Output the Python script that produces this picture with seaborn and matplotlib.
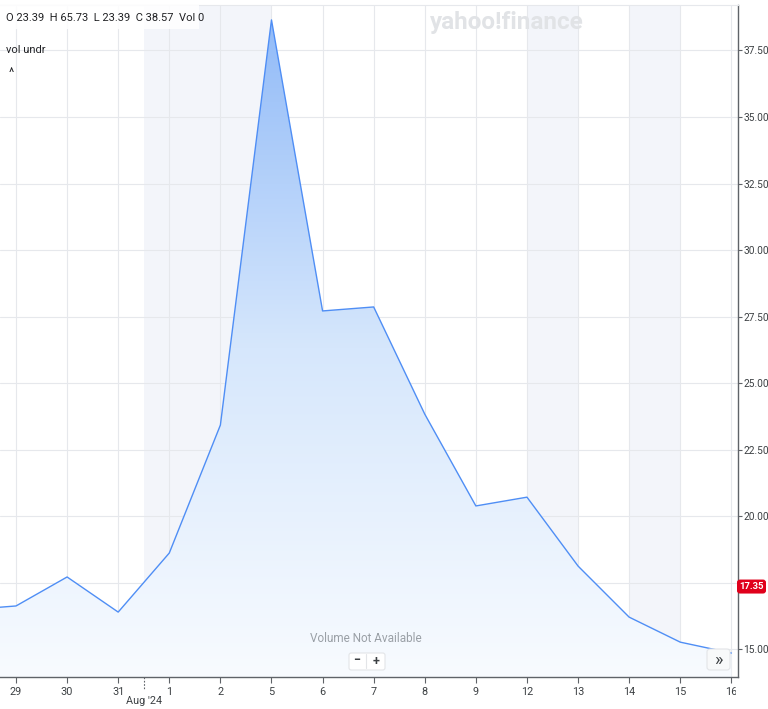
import numpy as np
import pandas as pd
import matplotlib
matplotlib.use("Agg")
import matplotlib.pyplot as plt
import seaborn as sns
from matplotlib.colors import LinearSegmentedColormap
from matplotlib.patches import FancyBboxPatch, Rectangle

# ---- data ----
dates = ["26", "29", "30", "31", "1", "2", "5", "6", "7", "8", "9", "12", "13", "14", "15", "16"]
closes = [16.47, 16.62, 17.71, 16.39, 18.61, 23.42, 38.65, 27.71, 27.86, 23.83,
          20.38, 20.71, 18.12, 16.20, 15.26, 14.85]
tick_labels = ["29", "30", "31", "1", "2", "5", "6", "7", "8", "9", "12", "13", "14", "15", "16"]
y_ticks = [15.0, 17.5, 20.0, 22.5, 25.0, 27.5, 30.0, 32.5, 35.0, 37.5]
bands = [(2.5, 5), (10, 11), (12, 13)]
last_label = 17.35
ohlc_text = "O 23.39  H 65.73  L 23.39  C 38.57  Vol 0"

df = pd.DataFrame({"pos": np.arange(len(dates)) - 1, "close": closes})

sns.set_theme(style="white")
plt.rcParams["font.family"] = ["Roboto", "DejaVu Sans"]

W, H = 768, 709
fig = plt.figure(figsize=(W / 100, H / 100), dpi=100)
fig.patch.set_facecolor("white")
ax = fig.add_axes([0, 1 - 677 / H, 738 / W, (677 - 5) / H])
ax.set_facecolor("white")

xmin, xmax = -0.313, 14.13
ymin, ymax = 13.95, 39.21

for a, b in bands:
    ax.axvspan(a, b, color="#f3f5fa", zorder=0, lw=0)

for yt in y_ticks:
    ax.axhline(yt, color="#e6e8ec", lw=0.8, zorder=0.5)
for i in range(len(tick_labels)):
    ax.axvline(i, color="#e6e8ec", lw=0.8, zorder=0.5)

# gradient fill under the line
poly = ax.fill_between(df["pos"], df["close"], ymin, color="none", lw=0)
cmap = LinearSegmentedColormap.from_list("g", ["#f8fbff", "#d6e7fc", "#92bbf8"])
grad = np.linspace(0, 1, 256).reshape(-1, 1)
im = ax.imshow(grad, extent=[-1.5, 15, ymin, max(closes)], origin="lower",
               aspect="auto", cmap=cmap, zorder=1)
im.set_clip_path(poly.get_paths()[0], transform=ax.transData)

sns.lineplot(data=df, x="pos", y="close", ax=ax, color="#4f8ef5", lw=1.0, zorder=3)

ax.set_xlim(xmin, xmax)
ax.set_ylim(ymin, ymax)
ax.set_xlabel("")
ax.set_ylabel("")

ax.spines["left"].set_visible(False)
ax.spines["top"].set_color("#e6e8ec")
ax.spines["top"].set_linewidth(0.8)
ax.spines["right"].set_color("#5f6368")
ax.spines["bottom"].set_color("#5f6368")
ax.spines["right"].set_linewidth(1.0)
ax.spines["bottom"].set_linewidth(1.0)

ax.yaxis.tick_right()
ax.set_yticks(y_ticks)
ax.set_yticklabels([f"{v:.2f}" for v in y_ticks])
ax.set_xticks(range(len(tick_labels)))
ax.set_xticklabels(tick_labels)
ax.tick_params(axis="y", which="both", right=True, left=False, length=3, width=0.8,
               color="#5f6368", labelsize=7.3, labelcolor="#3c4043", pad=1)
ax.tick_params(axis="x", bottom=True, length=4, width=0.8, color="#5f6368",
               labelsize=7.8, labelcolor="#3c4043", pad=3)
# the 17.50 label is fully hidden behind the last-price badge
for v, t in zip(y_ticks, ax.get_yticklabels()):
    if abs(v - 17.5) < 1e-9:
        t.set_visible(False)

# Aug '24 divider
ax.plot([2.5, 2.5], [0, -0.02], transform=ax.get_xaxis_transform(), color="#5f6368",
        lw=0.8, ls=(0, (1.5, 1.5)), clip_on=False)
fig.text(144 / W, 1 - 701 / H, "Aug '24", ha="center", va="center", fontsize=7.8, color="#3c4043")

# mask the right part of the last x label (cut at the axis edge)
fig.patches.append(Rectangle((736 / W, 1 - 700 / H), 32 / W, 19 / H, transform=fig.transFigure,
                             facecolor="white", edgecolor="none", zorder=10))

# top-left info
fig.patches.append(Rectangle((0, 1 - 29 / H), 199 / W, 24 / H, transform=fig.transFigure,
                             facecolor="white", edgecolor="none", alpha=0.85, zorder=5))
fig.text(6 / W, 1 - 18 / H, ohlc_text, ha="left", va="center", fontsize=8, color="#202124", zorder=6)
fig.text(6 / W, 1 - 50 / H, "vol undr", ha="left", va="center", fontsize=8, color="#202124")
fig.text(11 / W, 1 - 74 / H, "^", ha="center", va="center", fontsize=9, color="#202124")

# watermark
fig.text(507 / W, 1 - 22 / H, "yahoo!finance", ha="center", va="center", fontsize=17.5,
         fontweight="bold", color="#e1e3e6", zorder=6)

# volume not available
fig.text(366 / W, 1 - 638 / H, "Volume Not Available", ha="center", va="center",
         fontsize=8.5, color="#9aa0a6", zorder=6)

# zoom buttons
fig.patches.append(FancyBboxPatch((349 / W, 1 - 670 / H), 36 / W, 17 / H,
                                  boxstyle="round,pad=0,rounding_size=0.003",
                                  transform=fig.transFigure, facecolor="white",
                                  edgecolor="#e3e5e8", lw=0.8, zorder=6))
fig.text(357 / W, 1 - 661 / H, "\u2212", ha="center", va="center", fontsize=9,
         fontweight="bold", color="#3c4043", zorder=7)
fig.text(376 / W, 1 - 661 / H, "+", ha="center", va="center", fontsize=9,
         fontweight="bold", color="#3c4043", zorder=7)
fig.lines.append(plt.Line2D([366 / W, 366 / W], [1 - 668 / H, 1 - 654 / H],
                            transform=fig.transFigure, color="#e3e5e8", lw=0.8, zorder=7))

# >> button
fig.patches.append(FancyBboxPatch((707 / W, 1 - 670 / H), 23 / W, 21 / H,
                                  boxstyle="round,pad=0,rounding_size=0.004",
                                  transform=fig.transFigure, facecolor="#f8f9fa",
                                  edgecolor="#e3e5e8", lw=0.8, zorder=6))
fig.text(718.5 / W, 1 - 660 / H, "\u00bb", ha="center", va="center", fontsize=13,
         color="#3c4043", zorder=7)

# last price label
yl = ax.transData.transform((0, last_label))[1]
fig.patches.append(FancyBboxPatch((737 / W, (yl - 7) / H), 29 / W, 14 / H,
                                  boxstyle="round,pad=0,rounding_size=0.004",
                                  transform=fig.transFigure, facecolor="#e0001b",
                                  edgecolor="none", zorder=8))
fig.text(751.5 / W, yl / H, f"{last_label:.2f}", ha="center", va="center", fontsize=6.8,
         fontweight="bold", color="white", zorder=9)

fig.savefig("out.png", dpi=100, facecolor="white")
